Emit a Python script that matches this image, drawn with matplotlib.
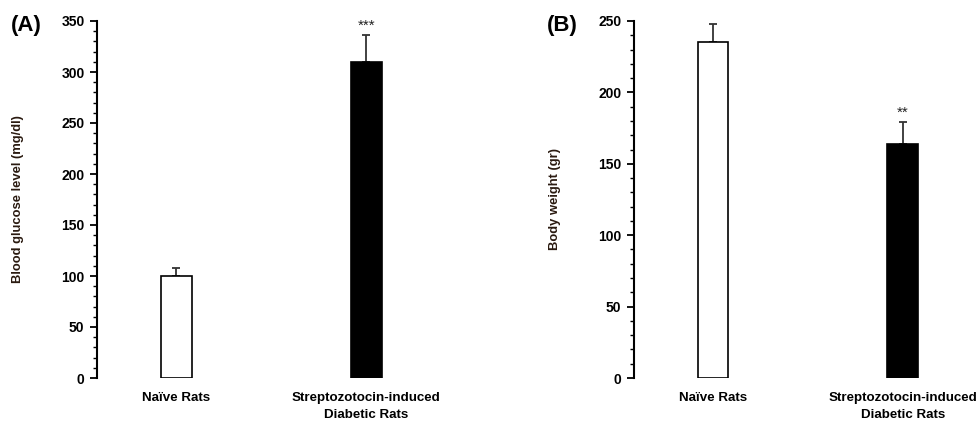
import matplotlib
matplotlib.use("Agg")
import matplotlib.pyplot as plt
from matplotlib.ticker import MultipleLocator

plt.rcParams['font.family'] = ['Liberation Sans', 'DejaVu Sans']
plt.rcParams['font.weight'] = 'bold'

categories = ["Naïve Rats", "Streptozotocin-induced\nDiabetic Rats"]
glucose = [100, 310]
glucose_err = [7.5, 26]
weight = [235, 164]
weight_err = [13, 15]
colors = ["white", "black"]
sig_a = ["", "***"]
sig_b = ["", "**"]

W, H = 979, 425
fig = plt.figure(figsize=(W / 100, H / 100), dpi=100)


def px_axes(left, right, bottom, top):
    return fig.add_axes([left / W, (H - bottom) / H, (right - left) / W, (bottom - top) / H])


def panel(ax, vals, errs, sig, ymax, ylabel, xlim):
    x = list(range(len(vals)))
    ax.bar(x, vals, width=0.16, color=colors, edgecolor="black", linewidth=1.2, zorder=2)
    ax.errorbar(x, vals, yerr=[[0] * len(errs), errs], fmt="none", ecolor="#333333",
                elinewidth=1.3, capsize=3, capthick=1.3, zorder=1)
    for xi, v, e, s in zip(x, vals, errs, sig):
        if s:
            ax.text(xi, v + e + ymax * 0.008, s, ha="center", va="bottom",
                    fontsize=11, fontweight="normal", color="#222222")
    ax.set_ylim(0, ymax)
    ax.set_xlim(*xlim)
    ax.set_xticks(x)
    ax.set_xticklabels(categories, fontsize=9.6, fontweight="bold", linespacing=1.55)
    ax.tick_params(axis="x", length=0, pad=10)
    ax.yaxis.set_major_locator(MultipleLocator(50))
    ax.yaxis.set_minor_locator(MultipleLocator(10))
    ax.tick_params(axis="y", which="major", length=5, width=1.3, labelsize=10, pad=4)
    ax.tick_params(axis="y", which="minor", length=3, width=1.0)
    for lab in ax.get_yticklabels():
        lab.set_fontweight("bold")
    for sp in ["top", "right", "bottom"]:
        ax.spines[sp].set_visible(False)
    ax.spines["left"].set_linewidth(1.5)
    ax.set_ylabel(ylabel, fontsize=9.4, fontweight="bold", color="#2a1a10", labelpad=27)


axA = px_axes(97, 452, 378, 21)
panel(axA, glucose, glucose_err, sig_a, 350, "Blood glucose level (mg/dl)", (-0.417, 1.45))
axB = px_axes(634, 969, 378, 21)
panel(axB, weight, weight_err, sig_b, 250, "Body weight (gr)", (-0.417, 1.35))

fig.text(11 / W, (H - 25) / H, "(A)", fontsize=16, fontweight="bold", va="center", ha="left")
fig.text(547 / W, (H - 25) / H, "(B)", fontsize=16, fontweight="bold", va="center", ha="left")

fig.savefig("out.png", dpi=100)
